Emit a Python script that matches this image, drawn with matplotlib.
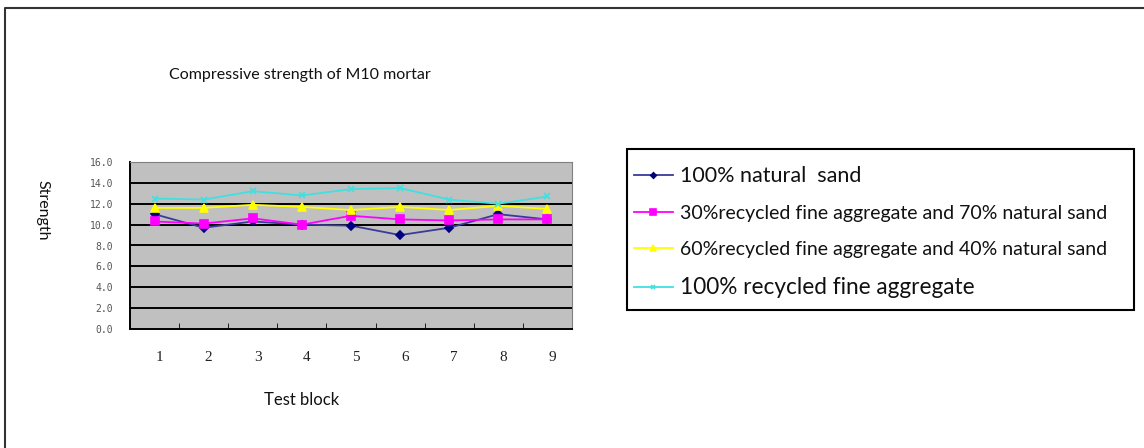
import numpy as np
import matplotlib
matplotlib.use("Agg")
import matplotlib.pyplot as plt
from matplotlib.lines import Line2D
from matplotlib.patches import Rectangle
from matplotlib.transforms import ScaledTranslation

blocks = ["1", "2", "3", "4", "5", "6", "7", "8", "9"]
natural_100 = [11.0, 9.7, 10.3, 10.0, 9.9, 9.0, 9.7, 11.0, 10.5]
recycled_30 = [10.3, 10.1, 10.6, 10.0, 10.85, 10.5, 10.4, 10.5, 10.5]
recycled_60 = [11.6, 11.6, 11.9, 11.7, 11.4, 11.7, 11.4, 11.8, 11.5]
recycled_100 = [12.5, 12.4, 13.2, 12.8, 13.4, 13.5, 12.4, 12.0, 12.7]

labels = ["100% natural  sand",
          "30%recycled fine aggregate and 70% natural sand",
          "60%recycled fine aggregate and 40% natural sand",
          "100% recycled fine aggregate"]
series = [natural_100, recycled_30, recycled_60, recycled_100]
line_colors = ["#3a3a9a", "#ff00ff", "#ffff00", "#40e0e0"]
mark_colors = ["#000080", "#ff00ff", "#ffff00", "#40e0e0"]
markers = ["D", "s", "^", "x"]
msizes = [4, 6, 6, 5]

plt.rcParams['font.family'] = ['Lato', 'DejaVu Sans']

fig = plt.figure(figsize=(11.44, 4.48), dpi=100)
ax = fig.add_axes([130/1144, 1-329/448, 442/1144, 167/448])
ax.set_facecolor("#c0c0c0")

x = np.arange(len(blocks))
handles = []
for i in range(len(series)):
    h, = ax.plot(x, series[i], color=line_colors[i], lw=1.3, marker=markers[i],
                 ms=msizes[i], mfc=mark_colors[i], mec=mark_colors[i], mew=1.2,
                 label=labels[i], zorder=3)
    handles.append(h)

ax.set_xlim(-0.5, 8.5)
ax.set_ylim(0, 16)
ax.set_yticks(np.arange(0, 17, 2))
ax.set_yticklabels(["%.1f" % v for v in np.arange(0, 17, 2)],
                   family="DejaVu Sans Mono", fontsize=7, color="#555555")
ax.tick_params(axis="y", length=0, pad=12)
for yv in np.arange(2, 16, 2):
    ax.axhline(yv, color="black", lw=1.4, zorder=1)

ax.set_xticks(x)
ax.set_xticklabels(blocks, family="Liberation Serif", fontsize=11, color="#222222")
ax.tick_params(axis="x", length=0, pad=16)
for lab in ax.get_xticklabels():
    lab.set_transform(lab.get_transform() + ScaledTranslation(0.05, 0, fig.dpi_scale_trans))
ax.set_xticks(np.arange(0.5, 8.5, 1), minor=True)
ax.tick_params(axis="x", which="minor", direction="in", length=4, color="black")

for s in ["left", "bottom"]:
    ax.spines[s].set_color("black")
    ax.spines[s].set_linewidth(1.4)
for s in ["top", "right"]:
    ax.spines[s].set_color("#808080")
    ax.spines[s].set_linewidth(0.8)

fig.text(300/1144, 1-75/448, "Compressive strength of M10 mortar", fontsize=11.5,
         ha="center", va="center", color="#111111")
fig.text(302/1144, 1-400/448, "Test block", fontsize=12, ha="center", va="center",
         color="#111111")
fig.text(42/1144, 1-210/448, "Strength", fontsize=11.5, rotation=270, ha="center",
         va="center", color="#111111")

# legend box
fig.add_artist(Rectangle((627/1144, 1-310/448), 507/1144, 161/448,
                         transform=fig.transFigure, fill=False,
                         edgecolor="black", lw=1.5))
leg = fig.legend(handles=handles, loc="upper left",
                 bbox_to_anchor=(634/1144, 1-166/448),
                 fontsize=14, frameon=False, borderaxespad=0, borderpad=0,
                 handlelength=2.0, handletextpad=0.35,
                 labelspacing=0.97, markerscale=0.7)
txts = leg.get_texts()
txts[0].set_fontsize(15.5)
txts[3].set_fontsize(16.3)
for t in txts:
    t.set_color("#111111")

# outer chart-area border (left and top only are visible)
fig.add_artist(Line2D([5/1144, 5/1144, 1.0], [0.0, 1-8/448, 1-8/448],
                      transform=fig.transFigure, color="#333333", lw=1.5))

fig.savefig("out.png", dpi=100)
